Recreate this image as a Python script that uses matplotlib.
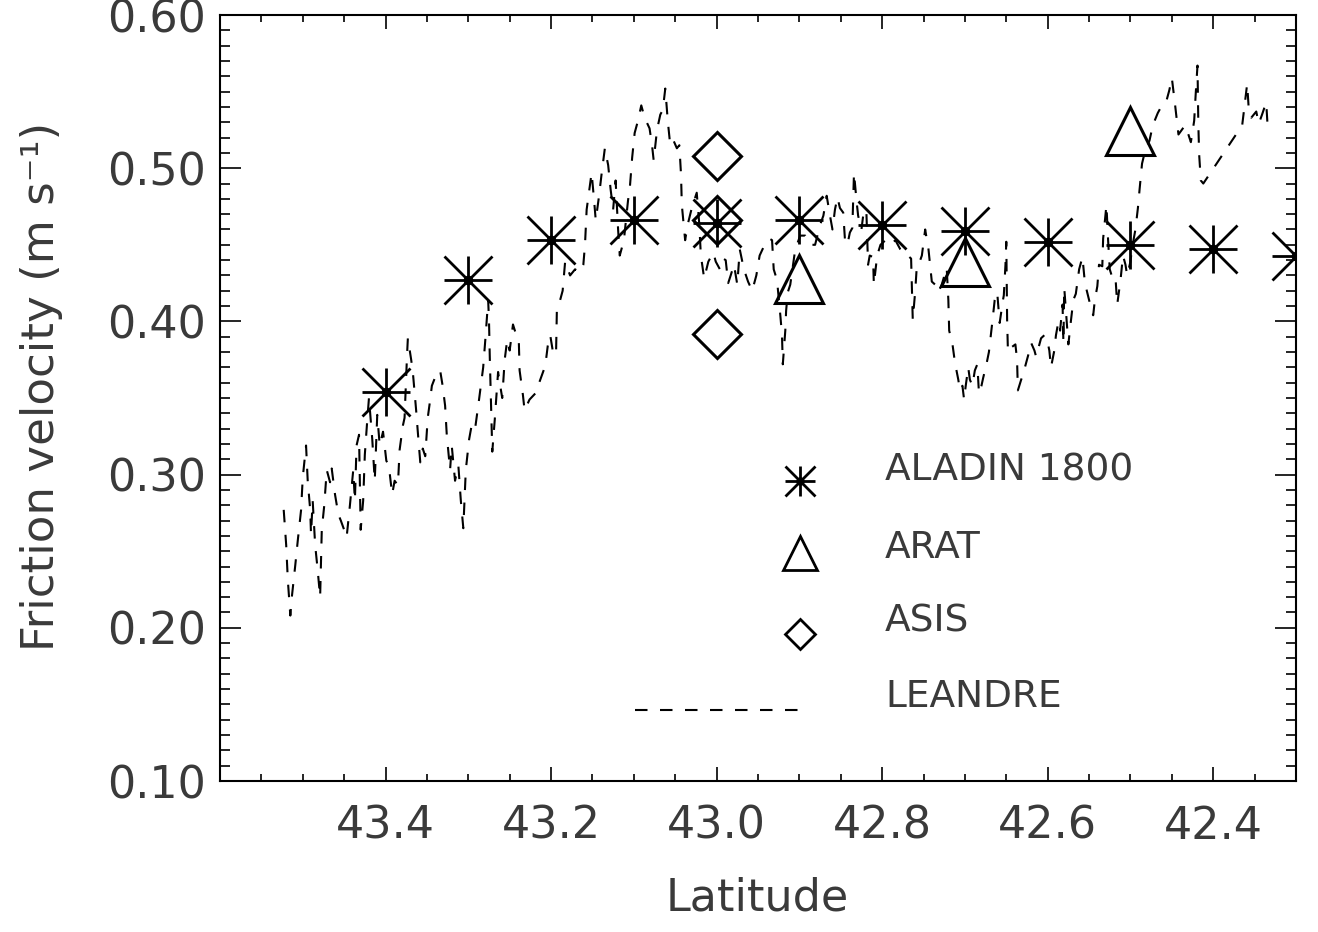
import matplotlib
matplotlib.use("Agg")
import matplotlib.pyplot as plt
from matplotlib.ticker import FixedLocator, MultipleLocator, FormatStrFormatter

# ---------------- data ----------------
aladin_lat = [43.4, 43.3, 43.2, 43.1, 43.0, 42.9, 42.8, 42.7, 42.6, 42.5, 42.4, 42.3]
aladin_u = [0.354, 0.427, 0.453, 0.466, 0.464, 0.466, 0.463, 0.459, 0.452, 0.450, 0.447, 0.443]

arat_lat = [42.9, 42.7, 42.5]
arat_u = [0.428, 0.439, 0.524]

asis_lat = [43.0, 43.0, 43.0]
asis_u = [0.508, 0.466, 0.392]

leandre_lat = [
    43.523, 43.520, 43.518, 43.515, 43.513, 43.509, 43.506, 43.502, 43.500, 43.496,
    43.494, 43.491, 43.490, 43.488, 43.485, 43.482, 43.479, 43.477, 43.474, 43.471,
    43.467, 43.465, 43.461, 43.457, 43.454, 43.450, 43.447, 43.443, 43.439, 43.437,
    43.435, 43.432, 43.430, 43.427, 43.425, 43.422, 43.420, 43.416, 43.413, 43.410,
    43.407, 43.403, 43.399, 43.396, 43.392, 43.389, 43.385, 43.383, 43.379, 43.377,
    43.374, 43.373, 43.369, 43.367, 43.363, 43.361, 43.358, 43.355, 43.352, 43.349,
    43.346, 43.344, 43.339, 43.334, 43.331, 43.328, 43.326, 43.322, 43.320, 43.316,
    43.312, 43.309, 43.306, 43.303, 43.299, 43.296, 43.292,
    43.287, 43.282, 43.279, 43.276, 43.275, 43.274, 43.273, 43.272, 43.271, 43.268,
    43.264, 43.262, 43.259, 43.256, 43.253, 43.250, 43.246, 43.242, 43.239, 43.238,
    43.234, 43.232, 43.226, 43.219, 43.213, 43.207, 43.204, 43.201, 43.198, 43.194,
    43.193, 43.189, 43.186, 43.183, 43.177, 43.171, 43.165, 43.161, 43.159, 43.157,
    43.153, 43.151, 43.148, 43.146, 43.142, 43.139, 43.135, 43.131, 43.128, 43.125,
    43.122, 43.119, 43.117, 43.112, 43.107, 43.105, 43.102, 43.099, 43.095, 43.091,
    43.087, 43.081, 43.078, 43.076, 43.072, 43.068, 43.065, 43.062, 43.059, 43.056,
    43.052, 43.048, 43.045,
    43.043, 43.042, 43.038, 43.035, 43.030, 43.024, 43.021, 43.019, 43.015, 43.010,
    43.004, 43.001, 42.996, 42.992, 42.989, 42.986, 42.983, 42.979, 42.975, 42.972,
    42.967, 42.962, 42.957, 42.952, 42.948, 42.942, 42.936, 42.933, 42.931, 42.927,
    42.923, 42.921, 42.920, 42.917, 42.916, 42.914, 42.911, 42.905, 42.899, 42.893,
    42.887, 42.881, 42.875, 42.871, 42.867, 42.863, 42.860, 42.857, 42.854, 42.851,
    42.847, 42.845, 42.842, 42.839, 42.836, 42.834, 42.831, 42.829, 42.825, 42.822,
    42.819, 42.817,
    42.815, 42.811, 42.810, 42.806, 42.802, 42.796, 42.790, 42.784, 42.778, 42.772,
    42.769, 42.765, 42.764, 42.763, 42.760, 42.758, 42.754, 42.752, 42.748, 42.744,
    42.740, 42.736, 42.732, 42.728, 42.722, 42.720, 42.719, 42.715, 42.712, 42.708,
    42.706, 42.703, 42.701, 42.699, 42.696, 42.694, 42.691, 42.688, 42.685, 42.683,
    42.680, 42.678, 42.674, 42.671, 42.667, 42.664, 42.661, 42.658, 42.654, 42.653,
    42.651, 42.650, 42.649, 42.648, 42.644, 42.639, 42.637, 42.636, 42.632, 42.630,
    42.626, 42.622, 42.620, 42.616, 42.614, 42.610, 42.608, 42.604, 42.601, 42.598,
    42.596, 42.592, 42.590, 42.587, 42.585, 42.582, 42.581, 42.580, 42.578, 42.575,
    42.572, 42.569, 42.566, 42.562, 42.558, 42.555, 42.550, 42.545, 42.543, 42.540,
    42.538, 42.534, 42.533, 42.529, 42.527, 42.525, 42.521, 42.518, 42.516, 42.512,
    42.509, 42.506, 42.504, 42.500, 42.498, 42.494, 42.491, 42.489, 42.486, 42.482,
    42.477, 42.473, 42.467, 42.462, 42.457, 42.453, 42.450, 42.446, 42.442, 42.438,
    42.434, 42.430, 42.427, 42.423, 42.421, 42.419, 42.418, 42.417, 42.415, 42.412,
    42.365, 42.359, 42.357, 42.354, 42.348, 42.345, 42.341, 42.336, 42.334,
]
leandre_u = [
    0.277, 0.254, 0.231, 0.208, 0.221, 0.241, 0.257, 0.277, 0.298, 0.319,
    0.296, 0.277, 0.261, 0.283, 0.254, 0.238, 0.220, 0.264, 0.280, 0.303,
    0.295, 0.304, 0.287, 0.274, 0.270, 0.264, 0.259, 0.280, 0.303, 0.283,
    0.319, 0.326, 0.264, 0.283, 0.313, 0.336, 0.350, 0.323, 0.296, 0.339,
    0.319, 0.328, 0.309, 0.306, 0.287, 0.296, 0.293, 0.316, 0.332, 0.337,
    0.378, 0.389, 0.375, 0.367, 0.342, 0.328, 0.308, 0.317, 0.312, 0.337,
    0.349, 0.358, 0.365, 0.368, 0.358, 0.345, 0.326, 0.303, 0.319, 0.296,
    0.306, 0.283, 0.265, 0.303, 0.323, 0.332, 0.329,
    0.349, 0.370, 0.391, 0.414, 0.401, 0.376, 0.355, 0.336, 0.315, 0.336,
    0.367, 0.360, 0.350, 0.375, 0.388, 0.381, 0.398, 0.391, 0.388, 0.368,
    0.352, 0.342, 0.349, 0.353, 0.362, 0.371, 0.384, 0.391, 0.381, 0.378,
    0.407, 0.414, 0.420, 0.439, 0.430, 0.434, 0.432, 0.437, 0.450, 0.473,
    0.489, 0.497, 0.479, 0.466, 0.482, 0.496, 0.513, 0.502, 0.486, 0.473,
    0.492, 0.460, 0.443, 0.453, 0.479, 0.486, 0.507, 0.523, 0.531, 0.541,
    0.533, 0.526, 0.515, 0.505, 0.525, 0.535, 0.538, 0.552, 0.531, 0.515,
    0.518, 0.513, 0.515,
    0.496, 0.476, 0.453, 0.463, 0.474, 0.484, 0.464, 0.443, 0.428, 0.439,
    0.445, 0.439, 0.434, 0.441, 0.440, 0.425, 0.430, 0.437, 0.424, 0.447,
    0.434, 0.426, 0.420, 0.430, 0.443, 0.450, 0.454, 0.453, 0.434, 0.427,
    0.404, 0.391, 0.372, 0.394, 0.407, 0.419, 0.424, 0.447, 0.456, 0.456,
    0.450, 0.450, 0.463, 0.469, 0.482, 0.469, 0.460, 0.473, 0.481, 0.474,
    0.471, 0.454, 0.450, 0.458, 0.461, 0.497, 0.479, 0.469, 0.460, 0.473,
    0.471, 0.437,
    0.443, 0.442, 0.424, 0.443, 0.450, 0.453, 0.450, 0.453, 0.447, 0.443,
    0.443, 0.441, 0.420, 0.401, 0.420, 0.437, 0.440, 0.443, 0.460, 0.447,
    0.426, 0.424, 0.419, 0.424, 0.435, 0.414, 0.394, 0.385, 0.373, 0.362,
    0.355, 0.358, 0.349, 0.358, 0.370, 0.362, 0.358, 0.368, 0.372, 0.353,
    0.358, 0.363, 0.372, 0.380, 0.399, 0.414, 0.419, 0.399, 0.414, 0.417,
    0.437, 0.452, 0.401, 0.380, 0.383, 0.385, 0.375, 0.355, 0.362, 0.365,
    0.373, 0.381, 0.386, 0.381, 0.377, 0.385, 0.389, 0.391, 0.389, 0.381,
    0.370, 0.381, 0.391, 0.400, 0.394, 0.411, 0.386, 0.422, 0.407, 0.385,
    0.400, 0.414, 0.418, 0.434, 0.442, 0.425, 0.414, 0.404, 0.414, 0.423,
    0.437, 0.436, 0.454, 0.476, 0.453, 0.434, 0.427, 0.428, 0.411, 0.427,
    0.443, 0.437, 0.430, 0.439, 0.448, 0.460, 0.474, 0.486, 0.503, 0.512,
    0.518, 0.528, 0.536, 0.541, 0.543, 0.551, 0.559, 0.541, 0.522, 0.525,
    0.528, 0.522, 0.517, 0.531, 0.550, 0.567, 0.529, 0.509, 0.492, 0.490,
    0.528, 0.555, 0.538, 0.533, 0.537, 0.529, 0.535, 0.543, 0.525,
]

x_ticks = [43.4, 43.2, 43.0, 42.8, 42.6, 42.4]
x_ticklabels = ["43.4", "43.2", "43.0", "42.8", "42.6", "42.4"]

legend_labels = ["ALADIN 1800", "ARAT", "ASIS", "LEANDRE"]

# ---------------- style ----------------
plt.rcParams["font.family"] = ["DejaVu Sans"]
plt.rcParams["lines.scale_dashes"] = False
TXT = "#3a3a3a"

fig = plt.figure(figsize=(13.18, 9.32), dpi=100)
ax = fig.add_axes([0.1669, 0.162, 0.8164, 0.8219])

dash = (0, (9, 9))
ax.plot(leandre_lat, leandre_u, color="black", lw=1.5, linestyle=dash)

# ALADIN asterisks
ax.plot(aladin_lat, aladin_u, ls="none", marker="+", ms=34.5, mew=2.0, color="black")
ax.plot(aladin_lat, aladin_u, ls="none", marker="x", ms=34.5, mew=2.0, color="black")
ax.plot(aladin_lat, aladin_u, ls="none", marker="o", ms=6, color="black")

# ARAT triangles
ax.plot(arat_lat, arat_u, ls="none", marker="^", ms=34.5, mfc="none", mec="black", mew=2.2)
# ASIS diamonds
ax.plot(asis_lat, asis_u, ls="none", marker="D", ms=24.5, mfc="none", mec="black", mew=2.2)

ax.set_xlim(43.6, 42.3)
ax.set_ylim(0.10, 0.60)

ax.xaxis.set_major_locator(FixedLocator(x_ticks))
ax.set_xticklabels(x_ticklabels)
ax.xaxis.set_minor_locator(MultipleLocator(0.05))
ax.yaxis.set_major_locator(MultipleLocator(0.1))
ax.yaxis.set_minor_locator(MultipleLocator(0.01))
ax.yaxis.set_major_formatter(FormatStrFormatter("%.2f"))

ax.tick_params(which="both", direction="in", top=True, right=True, width=1.2, color="black")
ax.tick_params(axis="x", which="major", length=10, pad=17, labelsize=32, labelcolor=TXT)
ax.tick_params(axis="x", which="minor", length=5)
ax.tick_params(axis="y", which="major", length=15, pad=10, labelsize=32, labelcolor=TXT)
ax.tick_params(axis="y", which="minor", length=7)
for s in ax.spines.values():
    s.set_linewidth(1.5)

ax.set_xlabel("Latitude", fontsize=32, color=TXT)
ax.xaxis.set_label_coords(0.499, -0.125)
ax.set_ylabel("Friction velocity (m s\u207b\u00b9)", fontsize=32.5, color=TXT)
ax.yaxis.set_label_coords(-0.146, 0.515)

# legend (drawn manually, in axes fraction)
tr = ax.transAxes
lx = 0.539
ax.plot([lx], [0.392], transform=tr, marker="+", ms=22, mew=2.0, color="black", clip_on=False)
ax.plot([lx], [0.392], transform=tr, marker="x", ms=22, mew=2.0, color="black", clip_on=False)
ax.plot([lx], [0.392], transform=tr, marker="o", ms=5, color="black", clip_on=False)
ax.plot([lx], [0.298], transform=tr, marker="^", ms=25, mfc="none", mec="black", mew=2.0, clip_on=False)
ax.plot([lx], [0.192], transform=tr, marker="D", ms=15.5, mfc="none", mec="black", mew=2.0, clip_on=False)
ax.plot([0.386, lx], [0.0927, 0.0927], transform=tr, color="black", lw=1.5, linestyle=dash)
for lab, yy in zip(legend_labels, [0.406, 0.304, 0.2076, 0.1097]):
    ax.text(0.618, yy, lab, transform=tr, fontsize=27, color=TXT, va="center", ha="left")

fig.savefig("out.png", dpi=100)
